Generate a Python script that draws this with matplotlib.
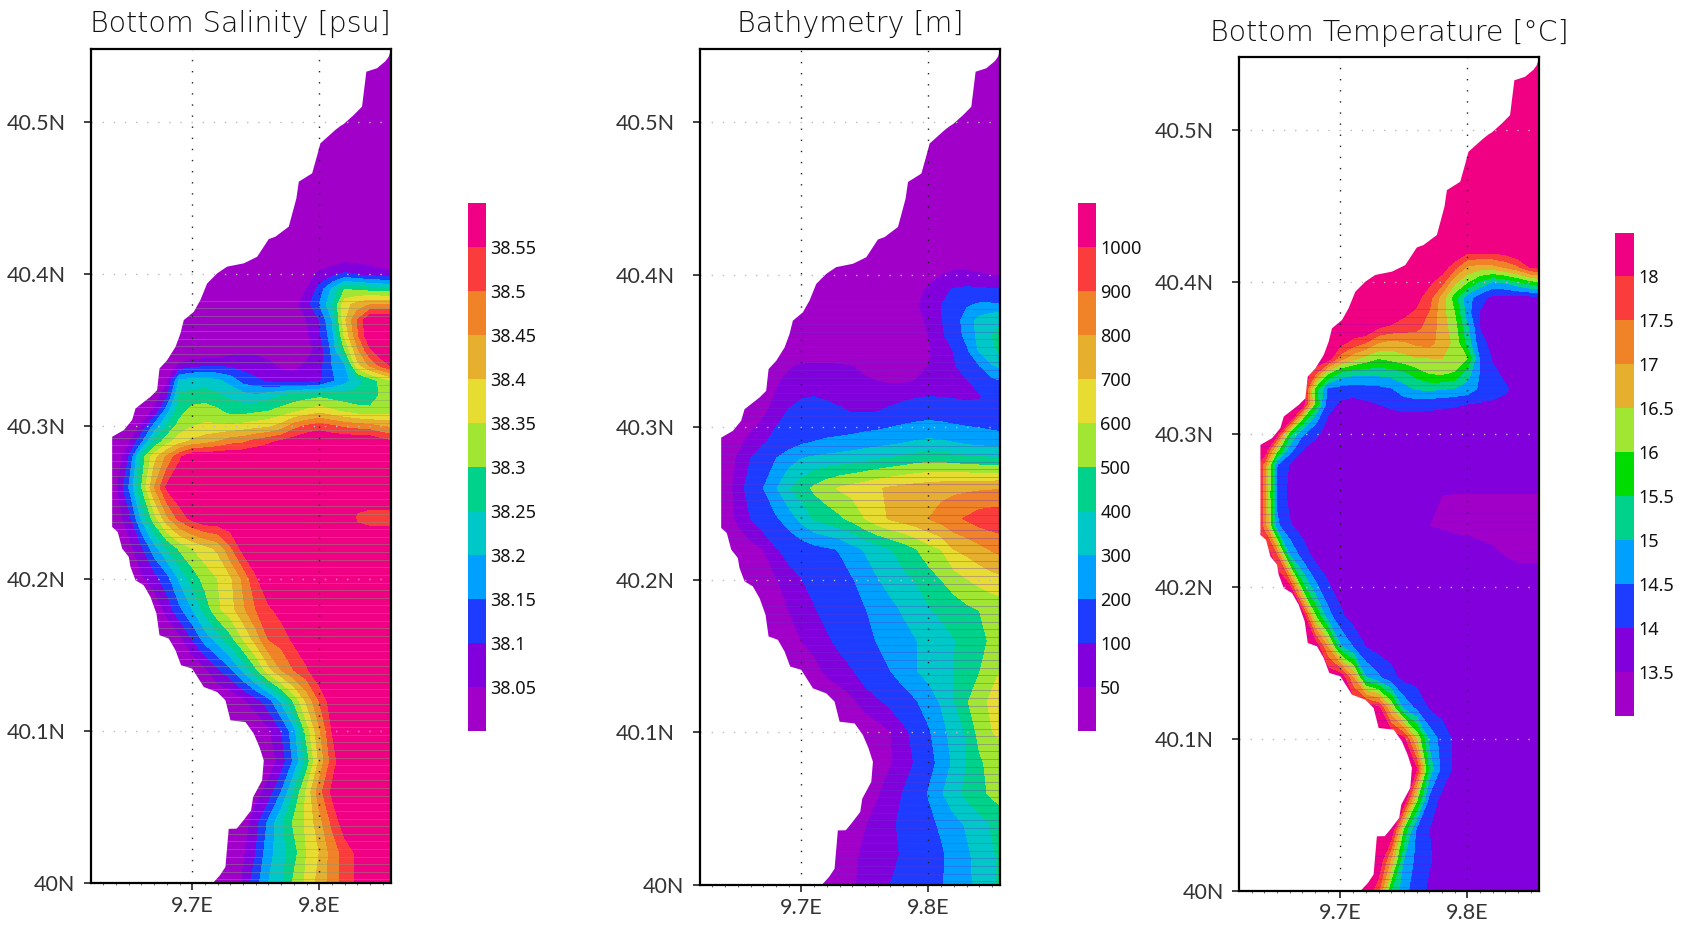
import numpy as np
import matplotlib
matplotlib.use("Agg")
import matplotlib.pyplot as plt

W, H = 1688, 926
COLORS = ["#a000c8", "#8200dc", "#1e3cff", "#00a0ff", "#00c8c8", "#00d28c",
          "#a0e632", "#e6dc32", "#e6af2d", "#f08228", "#fa3c3c", "#f00082"]
COLORS_T = ["#a000c8", "#8200dc", "#1e3cff", "#00a0ff", "#00d28c", "#00dc00",
            "#a0e632", "#e6af2d", "#f08228", "#fa3c3c", "#f00082"]

lons = [9.62, 9.63, 9.64, 9.65, 9.66, 9.67, 9.68, 9.69, 9.70, 9.71, 9.72, 9.73, 9.74,
        9.75, 9.76, 9.77, 9.78, 9.79, 9.80, 9.81, 9.82, 9.83, 9.84, 9.85, 9.86]
lats = [40.00, 40.02, 40.04, 40.06, 40.08, 40.10, 40.12, 40.14, 40.16, 40.18, 40.20, 40.22,
        40.24, 40.26, 40.28, 40.29, 40.30, 40.31, 40.32, 40.33, 40.34, 40.35, 40.36, 40.37,
        40.38, 40.39, 40.40, 40.41, 40.42, 40.55]

coast_lat = [40.0, 40.0055, 40.011, 40.0361, 40.0362, 40.0405, 40.0482, 40.0569, 40.0679, 40.081,
             40.0898, 40.0986, 40.1062, 40.1073, 40.1205, 40.1259, 40.1292, 40.1413, 40.1435,
             40.1533, 40.161, 40.1632, 40.1774, 40.1883, 40.196, 40.1993, 40.2081, 40.2146,
             40.2201, 40.231, 40.2343, 40.2935, 40.2979, 40.3045, 40.3121, 40.3198, 40.3241,
             40.3384, 40.3438, 40.3526, 40.3614, 40.3701, 40.3756, 40.3833, 40.3942, 40.4008,
             40.4052, 40.4074, 40.4117, 40.4233, 40.4249, 40.4315, 40.4501, 40.461, 40.4665,
             40.4796, 40.4862, 40.495, 40.4976, 40.4989, 40.5048, 40.5103, 40.5333, 40.5334,
             40.5355, 40.5401, 40.5431, 40.5484, 40.56]
coast_lon = [9.7152, 9.7213, 9.7257, 9.7283, 9.7345, 9.7388, 9.7459, 9.7475, 9.7546, 9.7559,
             9.7525, 9.748, 9.7415, 9.7297, 9.7257, 9.7192, 9.7087, 9.6995, 9.6908,
             9.6864, 9.6811, 9.6738, 9.6714, 9.6667, 9.6614, 9.6549, 9.6509, 9.6496,
             9.6444, 9.6409, 9.6365, 9.6365, 9.6457, 9.6522, 9.6549, 9.6667, 9.6719,
             9.6738, 9.6798, 9.6864, 9.6903, 9.6929, 9.7008, 9.706, 9.7113, 9.7192,
             9.727, 9.7402, 9.7507, 9.7598, 9.7651, 9.7756, 9.7816, 9.7835, 9.794,
             9.7984, 9.8005, 9.8123, 9.8163, 9.8189, 9.8268, 9.8333, 9.8367, 9.8373,
             9.8451, 9.8517, 9.8543, 9.8564, 9.8565]

# salinity in hundredths above 38 psu
salinity_rows = [
    [0]*12+[6,13,20,24,31,36,42,47,52,56,60,60,60],
    [0]*12+[4,10,18,23,28,35,40,47,52,56,60,60,60],
    [0]*12+[2,8,16,24,31,36,43,51,58,60,60,60,60],
    [0]*13+[3,7,15,25,36,48,56]+[60]*5,
    [0]*14+[2,7,16,27,41,52]+[60]*5,
    [0]*14+[4,10,18,32,44,55]+[60]*5,
    [0]*12+[4,8,13,21,31,41,50,58]+[60]*5,
    [0]*9+[4,9,14,21,29,38,45,50,54]+[60]*7,
    [0]*7+[3,10,17,22,28,35,42,50,52,56]+[60]*8,
    [0]*6+[7,14,20,27,34,38,44,50,54,57]+[60]*9,
    [0]*4+[4,8,13,21,27,32,35,39,46,54]+[60]*11,
    [0]*3+[3,9,18,25,31,35,38,41,49,57]+[60]*12,
    [0,0,2,8,21,33,44,52,57]+[60]*12+[54,53,53,53],
    [0,0,4,15,30,45,56]+[60]*18,
    [0,0,0,10,27,38,46,54]+[60]*17,
    [0,0,0,4,14,26,33,38,41,43,45,48,49,52,54,56,58]+[60]*6+[57,55],
    [0,0,0,0,6,17,26,32,35,36,36,36,37,38,39,42,48,51,53,51,49,48,47,45,44],
    [0]*5+[6,18,28,32,32,31,28,28,29,30,32,34,36,38,36,34,32,31,32,32],
    [0]*5+[2,9,26,27,28,26,24,22,21,23,25,27,28,29,28,27,27,28,31,32],
    [0]*6+[4,21,22,22,21,18,13,11,9,8,8,8,9,14,18,23,27,32,36],
    [0]*6+[1,6,8,9,9,9,8,7,6,4,3,6,8,15,19,38,46,52,57],
    [0]*11+[3,4,4,3,2,2,3,7,16,30,44,54,60,60],
    [0]*16+[2,4,9,18,36,49,60,60,60],
    [0]*16+[1,5,10,20,39,50,60,60,60],
    [0]*16+[3,8,15,24,38,42,45,45,45],
    [0]*17+[5,12,21,30,29,28,27,27],
    [0]*17+[3,6,8,11,9,8,7,6],
    [0]*18+[1,2,3,3,2,1,1],
    [0]*25,
    [0]*25,
]

bathymetry_rows = [
    [10]*10+[20,35,45,62,81,100,124,147,170,193,230,277,327,388,430],
    [10]*11+[15,35,62,80,90,104,130,160,185,240,285,330,390,430],
    [10]*12+[25,45,68,90,112,140,175,215,270,310,360,410,450],
    [10]*13+[15,45,75,102,150,205,290,360,425,470,520,550],
    [10]*14+[15,45,75,105,165,230,320,400,480,540,570],
    [10]*13+[12,27,47,80,125,185,265,340,410,535,598,620],
    [10]*11+[20,40,70,90,115,150,190,250,310,395,490,565,620,640],
    [10]*8+[20,30,60,75,95,130,165,198,245,295,330,365,400,445,495,570,620],
    [10]*6+[20,32,50,70,90,115,145,175,205,240,265,296,330,360,395,435,475,515,550],
    [10]*5+[12,30,50,75,95,120,145,170,195,230,270,310,350,390,420,445,475,500,525,540],
    [10]*4+[15,25,45,78,98,120,145,170,193,240,295,335,375,405,450,500,550,595,630,660,680],
    [10]*3+[15,30,50,95,120,140,165,185,205,260,310,350,395,440,495,560,600,700,730,770,810,840],
    [10,10,20,60,100,140,185,245,330,410,440,480,530,600,670,710,740,770,800,840,880,910,950,960,970],
    [10,10,20,70,130,200,290,395,450,520,570,610,635,660,690,715,730,745,755,765,775,780,785,790,795],
    [10,10,20,55,98,150,195,250,295,312,325,335,350,365,385,398,420,440,455,450,435,420,410,405,405],
    [10,10,20,35,70,92,125,150,185,205,220,230,240,255,265,280,295,310,320,315,300,280,270,260,250],
    [10]*3+[20,38,65,100,118,130,140,150,155,165,175,185,198,215,230,240,230,215,205,195,185,175],
    [10]*4+[20,40,70,105,125,130,120,108,98,95,100,115,130,140,150,145,135,120,120,130,140],
    [10]*5+[20,55,80,95,100,92,85,75,70,70,75,85,95,100,98,95,92,96,120,125],
    [10]*6+[45,60,70,75,75,70,62,55,50,45,45,52,65,75,85,96,115,170,205],
    [10]*7+[45,55,60,60,55,50,40,30,25,25,35,50,70,95,125,195,290,330],
    [10]*17+[30,45,70,102,180,310,385,430],
    [10]*17+[30,50,85,140,230,335,400,430],
    [10]*17+[35,58,95,150,245,330,375,400],
    [10]*17+[40,75,100,140,190,215,215,215],
    [10]*17+[30,60,85,105,110,108,105,102],
    [10]*18+[25,48,60,60,55,48,45],
    [10]*19+[20,22,22,18,12,10],
    [10]*25,
    [10]*25,
]

temperature_rows = [
    [18.5]*11+[17.6,15.5,14.65,14.25,13.9]+[13.8]*9,
    [18.5]*12+[16.85,14.95,14.35,14.05]+[13.8]*9,
    [18.5]*13+[15.85,14.4,14.0]+[13.8]*9,
    [18.5]*14+[16.1,14.35,13.85]+[13.8]*8,
    [18.5]*14+[18.0,15.3,14.35,13.9]+[13.8]*7,
    [18.5]*13+[18.1,16.45,14.85,14.3,13.9]+[13.8]*7,
    [18.5]*11+[18.15,16.5,14.9,14.4,13.95]+[13.8]*9,
    [18.5]*9+[17.05,15.05,14.6,14.15,13.85]+[13.8]*11,
    [18.5]*7+[17.0,15.1,14.5,14.0]+[13.8]*14,
    [18.5]*6+[16.1,14.75,14.1]+[13.8]*16,
    [18.5]*4+[18.1,15.65,14.65,14.05]+[13.8]*17,
    [18.5]*3+[17.6,15.05,14.3,13.85]+[13.8]*10+[13.75,13.7,13.6,13.55,13.49,13.4,13.4,13.4],
    [18.5]*2+[17.3,14.6,14.05]+[13.8]*9+[13.6,13.5,13.45]+[13.4]*8,
    [18.5]*2+[17.3,14.35,13.85]+[13.8]*8+[13.65,13.55,13.52,13.5]+[13.48]*8,
    [18.5]*2+[17.3,14.5,13.95]+[13.8]*20,
    [18.5]*3+[16.2,14.7,14.0]+[13.8]*19,
    [18.5]*3+[18.1,15.6,14.55,14.1]+[13.8]*18,
    [18.5]*4+[18.3,15.9,14.7,13.95]+[13.8]*17,
    [18.5]*6+[15.9,14.2,13.9,13.8,13.9,14.0,14.1,14.2,14.2,14.15,14.1,14.05,14.0,13.95,13.9,13.9,13.85,13.8,13.8],
    [18.5]*6+[15.8,14.4,14.3,14.25,14.3,14.35,14.45,14.8,15.05,15.1,15.05,14.95,14.8,14.4,14.25,14.05,13.85,13.8,13.8],
    [18.5]*6+[17.6,16.0,15.3,15.1,15.1,15.1,15.2,15.35,15.7,16.0,16.05,15.9,15.2,14.45,14.1,13.9,13.8,13.8,13.8],
    [18.5]*7+[18.3,17.2,16.65,16.3,16.0,16.15,16.3,16.45,16.48,16.5,16.5,16.0,14.4,13.95,13.8,13.8,13.8,13.8],
    [18.5]*8+[18.15,17.75,17.45,16.95,16.8,16.9,17.1,17.15,16.8,16.35,15.3,14.15,13.85,13.8,13.8,13.8,13.8],
    [18.5]*11+[18.0,17.85,17.75,17.6,17.3,16.75,16.2,15.1,13.98]+[13.8]*5,
    [18.5]*13+[18.1,17.9,17.45,16.7,16.0,14.7,13.95]+[13.8]*5,
    [18.5]*14+[18.15,17.7,16.75,15.7,14.7,14.2,13.85]+[13.8]*4,
    [18.5]*15+[18.1,17.65,16.6,16.0,15.35,14.9,15.05,15.4,15.75,16.0],
    [18.5]*16+[18.3,17.65,16.9,16.75,16.8,17.05,17.4,18.05,18.2],
    [18.5]*18+[18.1,18.1,18.1,18.2,18.5,18.5,18.5],
    [18.5]*25,
]

sal_levels = [37.9, 38.05, 38.1, 38.15, 38.2, 38.25, 38.3, 38.35, 38.4, 38.45, 38.5, 38.55, 38.7]
sal_labels = ["38.05", "38.1", "38.15", "38.2", "38.25", "38.3", "38.35", "38.4", "38.45", "38.5", "38.55"]
bat_levels = [0, 50, 100, 200, 300, 400, 500, 600, 700, 800, 900, 1000, 1100]
bat_labels = ["50", "100", "200", "300", "400", "500", "600", "700", "800", "900", "1000"]
tem_levels = [13, 13.5, 14, 14.5, 15, 15.5, 16, 16.5, 17, 17.5, 18, 19]
tem_labels = ["13.5", "14", "14.5", "15", "15.5", "16", "16.5", "17", "17.5", "18"]

lat_ticks = [40.0, 40.1, 40.2, 40.3, 40.4, 40.5]
lat_labels = ["40N", "40.1N", "40.2N", "40.3N", "40.4N", "40.5N"]
lon_ticks = [9.7, 9.8]
lon_labels = ["9.7E", "9.8E"]

fig = plt.figure(figsize=(W / 100, H / 100), dpi=100, facecolor="white")


def box(l, t, r, b):
    return [l / W, 1 - b / H, (r - l) / W, (b - t) / H]


def panel(rows, levels, colors, labels, title, axbox, cbbox, stripe, alpha, scale=1.0, offset=0.0):
    rows = np.array(rows, dtype=float)
    assert rows.shape == (len(lats), len(lons)), rows.shape
    field = offset + rows * scale
    ax = fig.add_axes(box(*axbox))
    cs = ax.contourf(lons, lats, field, levels=levels, colors=colors, zorder=1)
    ax.hlines(np.arange(40.0025, 40.385, 0.005), 9.62, 9.8565, color=stripe, lw=0.6,
              alpha=alpha, zorder=1.5)
    ax.fill_betweenx(coast_lat, 9.60, coast_lon, color="white", lw=0, zorder=2)
    ax.set_xlim(9.62, 9.8565)
    ax.set_ylim(40.0, 40.548)
    ax.set_xticks(lon_ticks, lon_labels)
    ax.set_yticks(lat_ticks, lat_labels)
    ax.set_xticks(lons[1:-1], minor=True)
    ax.tick_params(axis="both", which="major", length=5, width=1.2, color="#222222", pad=4,
                   labelsize=15.5, labelcolor="#333333")
    ax.tick_params(axis="y", which="major", pad=13)
    ax.yaxis.get_major_ticks()[0].set_pad(6)
    ax.tick_params(axis="x", which="minor", length=1.5, width=0.6, color="#555555")
    for lab in ax.get_xticklabels() + ax.get_yticklabels():
        lab.set_family("Lato")
    ax.xaxis.grid(True, which="major", color="#222222", lw=1.0, ls=(0, (1, 7)), zorder=3)
    ax.yaxis.grid(True, which="major", color="#bbbbbb", lw=1.0, ls=(0, (1, 7)), zorder=3)
    ax.set_axisbelow(False)
    for s in ax.spines.values():
        s.set_linewidth(1.6)
        s.set_color("black")
        s.set_zorder(5)
    ax.set_title(title, fontsize=20.5, pad=12, color="#111111", family="DejaVu Sans", fontweight="light")
    cax = fig.add_axes(box(*cbbox))
    cb = fig.colorbar(cs, cax=cax, spacing="uniform", ticks=levels[1:-1])
    cb.ax.set_yticklabels(labels)
    cb.ax.tick_params(length=0, pad=3, labelsize=13, labelcolor="#111111")
    for lab in cb.ax.get_yticklabels():
        lab.set_family("Noto Sans")
    cb.outline.set_visible(False)
    return ax


panel(salinity_rows, sal_levels, COLORS, sal_labels, "Bottom Salinity [psu]",
      (90.7, 48.7, 391, 883.3), (467.5, 202.7, 486, 731), "#7fa07a", 0.5, scale=0.01, offset=38.0)
panel(bathymetry_rows, bat_levels, COLORS, bat_labels, "Bathymetry [m]",
      (699.7, 48.7, 1000.3, 885), (1077.6, 202.7, 1096, 731), "#6a30c8", 0.4)
panel(temperature_rows, tem_levels, COLORS_T, tem_labels, "Bottom Temperature [°C]",
      (1239, 57.3, 1539, 890.7), (1615, 232.5, 1634, 716), "#8200dc", 0.3)

fig.savefig("out.png", dpi=100)
